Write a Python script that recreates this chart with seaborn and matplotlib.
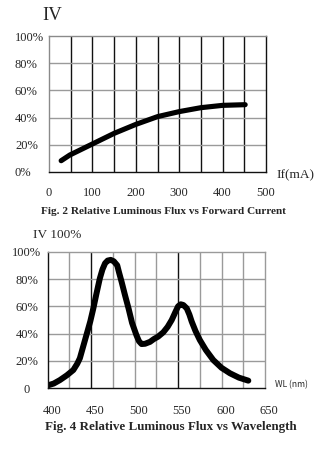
import matplotlib
matplotlib.use("Agg")
import matplotlib.pyplot as plt
import matplotlib.transforms as mtransforms
import numpy as np
import pandas as pd
import seaborn as sns

# Fig. 2: relative luminous flux vs forward current
current_ma = [28, 48, 100, 150, 200, 250, 300, 350, 400, 452]
flux_current = [8.3, 12.5, 20.6, 28.4, 35.0, 40.7, 44.4, 47.3, 49.0, 49.5]
current_ticks = [0, 100, 200, 300, 400, 500]
current_grid = [50, 100, 150, 200, 250, 300, 350, 400, 450]

# Fig. 4: relative luminous flux vs wavelength
wavelength_nm = [399, 407, 414, 422, 429.5, 434, 437, 441, 445, 449, 452.5,
                 456, 460, 463, 466, 469, 472.5, 476, 480, 482, 485, 489, 493,
                 497, 502, 505, 508, 512, 517.7, 522, 527, 533, 538, 542.7,
                 547, 550, 553, 556, 560, 563, 565.7, 570, 575, 582, 590.5,
                 600, 609.7, 620, 630.8]
flux_wavelength = [1.9, 3.5, 6.0, 9.5, 13.4, 18.0, 22.0, 31.0, 40.0, 49.0, 58.5,
                   69.0, 80.5, 87.0, 91.5, 93.5, 94.0, 93.0, 90.0, 85.0, 78.0,
                   68.0, 58.5, 48.0, 39.0, 34.5, 32.4, 32.6, 34.0, 36.0, 37.8,
                   41.0, 45.0, 50.0, 56.0, 60.0, 61.5, 61.0, 58.5, 54.0, 48.8,
                   42.0, 35.4, 28.0, 20.7, 15.0, 11.0, 7.8, 5.6]
wavelength_ticks = [400, 450, 500, 550, 600, 650]
wavelength_grid = [425, 450, 475, 500, 525, 550, 575, 600, 625]
dark_wavelengths = [450, 550]

flux_ticks = [0, 20, 40, 60, 80, 100]
flux_labels_top = ["0%", "20%", "40%", "60%", "80%", "100%"]
flux_labels_bottom = ["0", "20%", "40%", "60%", "80%", "100%"]

sns.set_theme(style="white")
plt.rcParams["font.family"] = ["Liberation Serif", "DejaVu Serif"]
plt.rcParams["axes.linewidth"] = 1.0

W, H = 327, 450
fig = plt.figure(figsize=(W / 100, H / 100), dpi=100)
fig.patch.set_facecolor("white")


def px_box(left, top, right, bottom):
    return [left / W, 1 - bottom / H, (right - left) / W, (bottom - top) / H]


SERIF = ["Liberation Serif", "DejaVu Serif"]

# ---------- top panel ----------
ax1 = fig.add_axes(px_box(49, 36, 266, 172))
df1 = pd.DataFrame({"current": current_ma, "flux": flux_current})
sns.lineplot(data=df1, x="current", y="flux", ax=ax1, color="black",
             linewidth=3.7, solid_capstyle="round", solid_joinstyle="round")
ax1.set_xlim(0, 500)
ax1.set_ylim(0, 100)
for v in current_grid:
    ax1.axvline(v, color="#111111", lw=1.0, zorder=0)
for v in flux_ticks[1:-1]:
    ax1.axhline(v, color="#9a9a9a", lw=1.0, zorder=0)
for side in ["left", "top"]:
    ax1.spines[side].set_color("#8a8a8a")
for side in ["right", "bottom"]:
    ax1.spines[side].set_color("#111111")
ax1.set_xticks(current_ticks)
ax1.set_xticklabels([str(t) for t in current_ticks], fontsize=9, family=SERIF)
ax1.set_yticks(flux_ticks)
ax1.set_yticklabels(flux_labels_top, fontsize=9, family=SERIF)
ax1.tick_params(axis="both", length=0)
ax1.tick_params(axis="x", pad=11)
ax1.tick_params(axis="y", pad=24.5)
for lab in ax1.get_yticklabels():
    lab.set_horizontalalignment("left")
ax1.set_xlabel("")
ax1.set_ylabel("")
fig.text(52 / W, 1 - 16 / H, "IV", fontsize=13.5, family=SERIF,
         ha="center", va="center")
fig.text(295 / W, 1 - 175 / H, "If(mA)", fontsize=9.5, family=SERIF,
         ha="center", va="center")
fig.text(163.5 / W, 1 - 212 / H,
         "Fig. 2 Relative Luminous Flux vs Forward Current",
         fontsize=8.1, family=SERIF, weight="bold", ha="center", va="center")

# ---------- bottom panel ----------
ax2 = fig.add_axes(px_box(47.7, 251.7, 265, 388.3))
df2 = pd.DataFrame({"wl": wavelength_nm, "flux": flux_wavelength})
sns.lineplot(data=df2, x="wl", y="flux", ax=ax2, color="black",
             linewidth=4.3, solid_capstyle="round", solid_joinstyle="round",
             sort=False)
ax2.set_xlim(400, 650)
ax2.set_ylim(0, 100)
for v in wavelength_grid:
    dark = v in dark_wavelengths
    ax2.axvline(v, color="#111111" if dark else "#9a9a9a",
                lw=1.0, zorder=0)
for v in flux_ticks[1:-1]:
    ax2.axhline(v, color="#9a9a9a", lw=1.0, zorder=0)
for side in ["top", "right"]:
    ax2.spines[side].set_color("#9a9a9a")
for side in ["left", "bottom"]:
    ax2.spines[side].set_color("#111111")
ax2.set_xticks(wavelength_ticks)
ax2.set_xticklabels([str(t) for t in wavelength_ticks], fontsize=9, family=SERIF)
ax2.set_yticks(flux_ticks)
ax2.set_yticklabels(flux_labels_bottom, fontsize=9, family=SERIF)
ax2.tick_params(axis="both", length=0)
ax2.tick_params(axis="x", pad=12)
ax2.tick_params(axis="y", pad=15)
shift = mtransforms.ScaledTranslation(4 / 100, 0, fig.dpi_scale_trans)
for lab in ax2.get_xticklabels():
    lab.set_transform(lab.get_transform() + shift)
for lab in ax2.get_yticklabels():
    lab.set_horizontalalignment("center")
ax2.set_xlabel("")
ax2.set_ylabel("")
fig.text(57.5 / W, 1 - 235 / H, "IV 100%", fontsize=9.5, family=SERIF,
         ha="center", va="center")
fig.text(291 / W, 1 - 385 / H, "WL (nm)", fontsize=6.2,
         family=["Noto Sans CJK JP", "DejaVu Sans"], ha="center", va="center")
fig.text(171 / W, 1 - 426.7 / H,
         "Fig. 4 Relative Luminous Flux vs Wavelength",
         fontsize=9.4, family=SERIF, weight="bold", ha="center", va="center")

fig.savefig("out.png", dpi=100, facecolor="white")
